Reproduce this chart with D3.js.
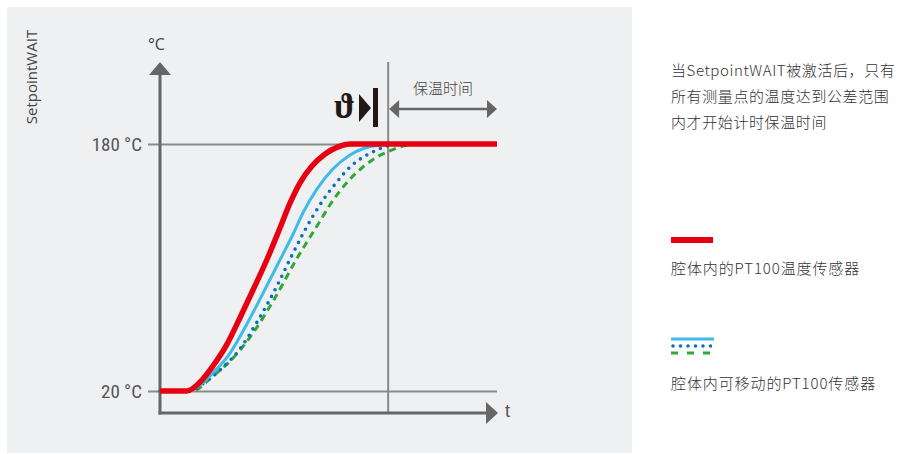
<!DOCTYPE html>
<html>
<head>
<meta charset="utf-8">
<title>SetpointWAIT</title>
<script src="https://cdn.jsdelivr.net/npm/d3@7"></script>
<style>
  body { margin: 0; background: #fff; }
  text { font-family: "Noto Sans CJK SC", "Noto Sans", sans-serif; }
</style>
</head>
<body>
<div id="chart"></div>
<script>
// time in arbitrary units (0..100), temperature in °C
var redT   = [0, 8, 11.9, 15.7, 19.9, 23.7, 27.6, 31.8, 35.6, 38.6, 41.5, 45.1, 49.0, 52.8, 56.4, 100];
var redV   = [20, 20, 25.8, 36.2, 50.4, 67.3, 85.4, 105.5, 125.6, 141.8, 154.7, 165.7, 173.5, 178.1, 180, 180];
var blueT  = [0, 8, 11.0, 15.7, 20.8, 25.8, 30.6, 35.6, 39.5, 42.4, 46.6, 51.3, 56.4, 60.8, 65.3, 69.7, 100];
var blueV  = [20, 20, 22.6, 31.7, 44.6, 63.4, 83.5, 104.9, 121.7, 135.3, 150.9, 163.8, 172.9, 177.4, 179.4, 180, 180];
var dotT   = [0, 8.9, 13.4, 17.8, 23.7, 28.8, 34.7, 38.6, 42.4, 45.4, 48.4, 52.5, 56.4, 60.8, 64.4, 67.4, 70.3];
var dotV   = [20, 20, 25.8, 33.6, 47.2, 64.7, 88.0, 105.5, 121.7, 133.4, 143.7, 155.4, 165.1, 172.2, 176.1, 178.7, 180];
var greenT = [0, 9.5, 15.7, 21.7, 27.6, 34.1, 40.7, 43.6, 47.5, 50.4, 53.4, 56.4, 60.2, 64.4, 68.2, 71.2, 74.8];
var greenV = [20, 20, 29.7, 41.4, 57.6, 80.2, 106.2, 116.5, 130.1, 140.5, 149.6, 157.3, 165.1, 171.6, 175.5, 178.1, 180];
var yTicks = [20, 180];
var holdStart = 67.7;

var W = 912, H = 454;
var svg = d3.select("#chart").append("svg")
    .attr("width", W).attr("height", H);

var x = d3.scaleLinear().domain([0, 100]).range([160, 497]);
var y = d3.scaleLinear().domain([20, 180]).range([391, 144]);
var axisColor = "#666", gridColor = "#8a8a8a";

// grey panel
svg.append("rect").attr("x", 7).attr("y", 7).attr("width", 625).attr("height", 446)
   .attr("fill", "#eff0f2");

// ticks + horizontal reference lines
var yAxis = d3.axisLeft(y).tickValues(yTicks)
    .tickFormat(function(d) { return d + " °C"; })
    .tickSize(-(497 - 148)).tickPadding(6);
var ga = svg.append("g").attr("transform", "translate(148,0)").call(yAxis);
ga.select(".domain").remove();
ga.selectAll("line").attr("stroke", gridColor).attr("stroke-width", 2);
ga.selectAll("text")
  .attr("fill", "#555")
  .style("font-family", "'Liberation Sans Narrow', 'Roboto Condensed', sans-serif")
  .style("font-size", "19px");

// vertical line where holding time starts
svg.append("line")
   .attr("x1", x(holdStart)).attr("x2", x(holdStart))
   .attr("y1", 62).attr("y2", 413)
   .attr("stroke", gridColor).attr("stroke-width", 2);

// axes with arrowheads
var x0 = x(0), yBase = 413;
svg.append("line").attr("x1", x0).attr("x2", x0).attr("y1", yBase + 1.5).attr("y2", 74)
   .attr("stroke", axisColor).attr("stroke-width", 3);
svg.append("path").attr("d", "M" + x0 + ",62L" + (x0 + 11) + ",75L" + (x0 - 11) + ",75Z")
   .attr("fill", axisColor);
svg.append("line").attr("x1", x0 - 1.5).attr("x2", 487).attr("y1", yBase).attr("y2", yBase)
   .attr("stroke", axisColor).attr("stroke-width", 3);
svg.append("path").attr("d", "M498," + yBase + "L486," + (yBase - 11) + "L486," + (yBase + 11) + "Z")
   .attr("fill", axisColor);

svg.append("text").attr("x", 505).attr("y", 417).text("t")
   .attr("fill", "#555").style("font-size", "18px").style("font-family", "'Liberation Sans Narrow', sans-serif");
svg.append("text").attr("x", x0 - 12).attr("y", 50).text("°C")
   .attr("fill", "#444").style("font-size", "16px").style("font-family", "'Open Sans', sans-serif");
svg.append("text")
   .attr("transform", "translate(37,77) rotate(-90)")
   .attr("text-anchor", "middle")
   .attr("fill", "#444").style("font-size", "15px").style("font-family", "'Open Sans', sans-serif")
   .text("SetpointWAIT");

// theta marker + holding time arrow
svg.append("text").attr("x", 355).attr("y", 118).attr("text-anchor", "end").text("ϑ")
   .attr("fill", "#231815").style("font-family", "'Liberation Serif', 'DejaVu Serif', serif")
   .style("font-weight", "bold").style("font-size", "35px");
svg.append("path").attr("d", "M359,94L371,108L359,122Z").attr("fill", "#231815");
svg.append("rect").attr("x", 373).attr("y", 88).attr("width", 5).attr("height", 39).attr("fill", "#231815");

var ax1 = x(holdStart) + 1, ax2 = 497, ay = 109;
svg.append("line").attr("x1", ax1 + 8).attr("x2", ax2 - 8).attr("y1", ay).attr("y2", ay)
   .attr("stroke", axisColor).attr("stroke-width", 2.5);
svg.append("path").attr("d", "M" + ax1 + "," + ay + "L" + (ax1 + 10) + "," + (ay - 9) + "L" + (ax1 + 10) + "," + (ay + 9) + "Z")
   .attr("fill", axisColor);
svg.append("path").attr("d", "M" + ax2 + "," + ay + "L" + (ax2 - 10) + "," + (ay - 9) + "L" + (ax2 - 10) + "," + (ay + 9) + "Z")
   .attr("fill", axisColor);
svg.append("text").attr("x", 443).attr("y", 94).attr("text-anchor", "middle").text("保温时间")
   .attr("fill", "#444").style("font-size", "15px").style("font-weight", "300");

// curves
function pts(ts, vs) { return ts.map(function(t, i) { return [t, vs[i]]; }); }
var line = d3.line()
    .x(function(d) { return x(d[0]); })
    .y(function(d) { return y(d[1]); })
    .curve(d3.curveMonotoneX);

svg.append("path").attr("d", line(pts(greenT, greenV)))
   .attr("fill", "none").attr("stroke", "#2ea836").attr("stroke-width", 3)
   .attr("stroke-dasharray", "7,5");
svg.append("path").attr("d", line(pts(dotT, dotV)))
   .attr("fill", "none").attr("stroke", "#0a6fbd").attr("stroke-width", 3.6)
   .attr("stroke-linecap", "round").attr("stroke-dasharray", "0,7.5");
svg.append("path").attr("d", line(pts(blueT, blueV)))
   .attr("fill", "none").attr("stroke", "#3dbbea").attr("stroke-width", 3);
svg.append("path").attr("d", line(pts(redT, redV)))
   .attr("fill", "none").attr("stroke", "#e60012").attr("stroke-width", 5.5);

// right-hand description and legend
var note = ["当SetpointWAIT被激活后，只有", "所有测量点的温度达到公差范围", "内才开始计时保温时间"];
var noteY = [76, 102, 128];
svg.selectAll(".note").data(note).enter().append("text")
   .attr("class", "note")
   .attr("x", 671).attr("y", function(d, i) { return noteY[i]; })
   .attr("fill", "#333").style("font-size", "15px").style("font-weight", "300")
   .style("letter-spacing", "0.6px")
   .text(function(d) { return d; });

svg.append("rect").attr("x", 671).attr("y", 237).attr("width", 42).attr("height", 6).attr("fill", "#e60012");
svg.append("text").attr("x", 671).attr("y", 274).text("腔体内的PT100温度传感器")
   .attr("fill", "#333").style("font-size", "15px").style("font-weight", "300")
   .style("letter-spacing", "0.9px");

svg.append("line").attr("x1", 671).attr("x2", 714).attr("y1", 339).attr("y2", 339)
   .attr("stroke", "#3dbbea").attr("stroke-width", 3);
svg.append("line").attr("x1", 673).attr("x2", 714).attr("y1", 346).attr("y2", 346)
   .attr("stroke", "#0a6fbd").attr("stroke-width", 3.6).attr("stroke-linecap", "round")
   .attr("stroke-dasharray", "0,7.5");
svg.append("line").attr("x1", 671).attr("x2", 714).attr("y1", 353).attr("y2", 353)
   .attr("stroke", "#2ea836").attr("stroke-width", 3).attr("stroke-dasharray", "7,9");
svg.append("text").attr("x", 671).attr("y", 389).text("腔体内可移动的PT100传感器")
   .attr("fill", "#333").style("font-size", "15px").style("font-weight", "300")
   .style("letter-spacing", "0.9px");
</script>
</body>
</html>
